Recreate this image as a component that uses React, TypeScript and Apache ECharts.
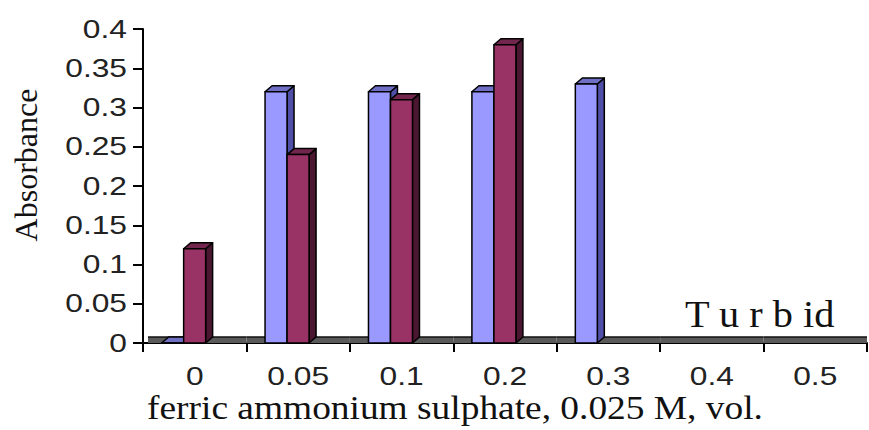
import React, { useEffect, useRef } from "react";
import * as echarts from "echarts";

const categories = ["0", "0.05", "0.1", "0.2", "0.3", "0.4", "0.5"];
const blueValues: (number | null)[] = [0, 0.32, 0.32, 0.32, 0.33, null, null];
const maroonValues: (number | null)[] = [0.12, 0.24, 0.31, 0.38, null, null, null];
const yTickValues = [0, 0.05, 0.1, 0.15, 0.2, 0.25, 0.3, 0.35, 0.4];
const yTickLabels = ["0", "0.05", "0.1", "0.15", "0.2", "0.25", "0.3", "0.35", "0.4"];
const xTitle = "ferric ammonium sulphate, 0.025 M, vol.";
const yTitle = "Absorbance";
const note = "T u r b id";

const DX = 7;
const DY = -6;

function barRenderer(offsetFrac: number, front: string, side: string, topC: string) {
  return (params: any, api: any) => {
    const i = api.value(0);
    const v = api.value(1);
    const base = api.coord([i, 0]);
    const top = api.coord([i, v]);
    const bw = api.size([1, 0])[0];
    const w = bw * 0.2125;
    const x0 = base[0] + offsetFrac * bw;
    const x1 = x0 + w;
    const yb = base[1];
    const yt = top[1];
    const stroke = { stroke: "#000", lineWidth: 1.5, lineJoin: "round" };
    return {
      type: "group",
      children: [
        {
          type: "polygon",
          shape: { points: [[x1, yt], [x1 + DX, yt + DY], [x1 + DX, yb + DY], [x1, yb]] },
          style: { fill: side, ...stroke },
        },
        {
          type: "polygon",
          shape: { points: [[x0, yt], [x0 + DX, yt + DY], [x1 + DX, yt + DY], [x1, yt]] },
          style: { fill: topC, ...stroke },
        },
        {
          type: "rect",
          shape: { x: x0, y: yt, width: w, height: yb - yt },
          style: { fill: front, ...stroke },
        },
      ],
    };
  };
}

export default function App() {
  const ref = useRef<HTMLDivElement>(null);
  useEffect(() => {
    if (!ref.current) return;
    const chart = echarts.init(ref.current, undefined, { renderer: "svg" });
    const blueData = blueValues
      .map((v, i) => (v === null ? null : [i, v]))
      .filter((d) => d !== null);
    const maroonData = maroonValues
      .map((v, i) => (v === null ? null : [i, v]))
      .filter((d) => d !== null);
    const sansFont = "'Liberation Sans', Arial, sans-serif";
    const serifFont = "'Liberation Serif', 'Times New Roman', serif";
    chart.setOption({
      animation: false,
      backgroundColor: "#ffffff",
      grid: { left: 143, right: 2, top: 29, bottom: 87 },
      xAxis: {
        type: "category",
        data: categories,
        axisLine: { show: true, lineStyle: { color: "#000", width: 2 } },
        axisTick: { show: true, length: 9, lineStyle: { color: "#000", width: 2 } },
        axisLabel: { show: false },
        splitLine: { show: false },
      },
      yAxis: {
        type: "value",
        min: 0,
        max: 0.4,
        interval: 0.05,
        axisLine: { show: true, lineStyle: { color: "#000", width: 2 } },
        axisTick: { show: true, length: 10, lineStyle: { color: "#000", width: 2 } },
        axisLabel: { show: false },
        splitLine: { show: false },
      },
      graphic: [
        {
          type: "text",
          x: 455,
          y: 408,
          scaleX: 1.1,
          style: {
            text: xTitle,
            font: `34px ${serifFont}`,
            fill: "#111",
            align: "center",
            verticalAlign: "middle",
          },
        },
        {
          type: "text",
          x: 26,
          y: 165,
          rotation: Math.PI / 2,
          style: {
            text: yTitle,
            font: `32px ${serifFont}`,
            fill: "#111",
            align: "center",
            verticalAlign: "middle",
          },
        },
        {
          type: "text",
          x: 685,
          y: 315,
          scaleX: 1.09,
          style: {
            text: note,
            font: `37px ${serifFont}`,
            fill: "#111",
            align: "left",
            verticalAlign: "middle",
          },
        },
      ],
      series: [
        {
          type: "custom",
          name: "floor",
          silent: true,
          z: 1,
          data: categories.map((c, i) => [i]),
          renderItem: (params: any, api: any) => {
            const i = api.value(0);
            const c = api.coord([i, 0]);
            const bw = api.size([1, 0])[0];
            const start = c[0] - bw / 2 + (i === 0 ? 5 : 0);
            const end = c[0] + bw / 2;
            return {
              type: "group",
              children: [
                {
                  type: "rect",
                  shape: { x: start, y: c[1] - 6, width: end - start, height: 6 },
                  style: { fill: "#5a5a5a" },
                },
                {
                  type: "line",
                  shape: { x1: start, y1: c[1] - 6, x2: end, y2: c[1] - 6 },
                  style: { stroke: "#111", lineWidth: 1.5 },
                },
              ],
            };
          },
        },
        {
          type: "custom",
          name: "Series 1",
          z: 3,
          data: blueData,
          renderItem: barRenderer(-0.32, "#9999FF", "#4F4FA8", "#6F6FC4"),
        },
        {
          type: "custom",
          name: "Series 2",
          z: 4,
          data: maroonData,
          renderItem: barRenderer(-0.107, "#993366", "#4A1630", "#73264D"),
        },
        {
          type: "custom",
          name: "xLabels",
          silent: true,
          z: 5,
          data: categories.map((c, i) => [i]),
          renderItem: (params: any, api: any) => {
            const i = api.value(0);
            const c = api.coord([i, 0]);
            return {
              type: "text",
              x: c[0],
              y: c[1] + 33,
              scaleX: 1.27,
              style: {
                text: categories[i],
                font: `25px ${sansFont}`,
                fill: "#222",
                align: "center",
                verticalAlign: "middle",
              },
            };
          },
        },
        {
          type: "custom",
          name: "yLabels",
          silent: true,
          z: 5,
          data: yTickValues.map((v, k) => [0, v, k]),
          renderItem: (params: any, api: any) => {
            const v = api.value(1);
            const k = api.value(2);
            const c = api.coord([0, v]);
            const bw = api.size([1, 0])[0];
            return {
              type: "text",
              x: c[0] - bw / 2 - 16,
              y: c[1],
              scaleX: 1.27,
              style: {
                text: yTickLabels[k],
                font: `25px ${sansFont}`,
                fill: "#222",
                align: "right",
                verticalAlign: "middle",
              },
            };
          },
        },
      ],
    });
    return () => chart.dispose();
  }, []);
  return (
    <div
      ref={ref}
      style={{ position: "fixed", left: 0, top: 0, width: 869, height: 430, background: "#fff" }}
    />
  );
}
